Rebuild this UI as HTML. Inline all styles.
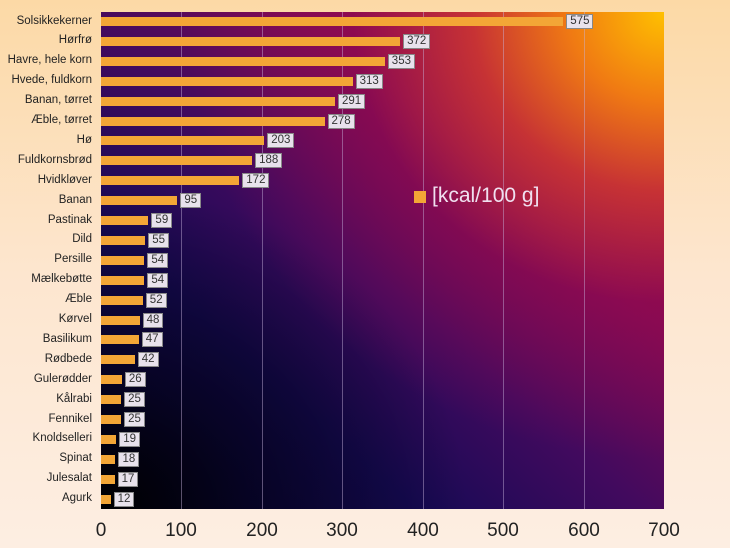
<!DOCTYPE html>
<html><head><meta charset="utf-8"><style>
body{margin:0;width:730px;height:548px;overflow:hidden;background:linear-gradient(#fcd9a6,#fde6cf 50%,#fdeee2);font-family:"Liberation Sans",sans-serif;position:relative}
#plot{position:absolute;left:101px;top:12px;width:563px;height:497px;background:
radial-gradient(ellipse 85% 90% at 100% 0%,rgba(255,192,0,1) 0%,rgba(245,128,16,.95) 20%,rgba(215,60,45,.8) 40%,rgba(160,10,76,.5) 65%,rgba(150,10,76,0) 100%),
radial-gradient(ellipse 65% 65% at 0% 100%,rgba(0,0,0,1) 0%,rgba(0,0,10,.6) 40%,rgba(0,0,20,0) 100%),
linear-gradient(to top right,#08063a 0%,#160a55 28%,#420a5e 48%,#780a56 68%,#9a0a4a 100%)}
.g{position:absolute;top:0;bottom:0;width:1px;background:rgba(200,180,220,.45)}
.bar{position:absolute;height:9px;background:#f3a636;left:0}
.v{position:absolute;font-size:11.5px;color:#333;background:#e8e2ec;border:1px solid #888;padding:0 3px;line-height:13px}
.l{position:absolute;right:638px;font-size:11.5px;color:#222;text-align:right;white-space:nowrap}
.t{position:absolute;top:520px;font-size:19px;color:#222;transform:translateX(-50%)}
</style></head><body>
<div id="plot">
<div class="g" style="left:80px"></div><div class="g" style="left:161px"></div><div class="g" style="left:241px"></div><div class="g" style="left:322px"></div><div class="g" style="left:402px"></div><div class="g" style="left:483px"></div>
<div style="position:absolute;left:313px;top:179px;width:12px;height:12px;background:#f3a636"></div>
<div style="position:absolute;left:331px;top:172px;font-size:21px;color:#f0e0f0">[kcal/100 g]</div>
<div id="bars"></div>
</div>
<div id="labels"></div>
<div class="t" style="left:101px">0</div><div class="t" style="left:181px">100</div><div class="t" style="left:262px">200</div><div class="t" style="left:342px">300</div><div class="t" style="left:423px">400</div><div class="t" style="left:503px">500</div><div class="t" style="left:584px">600</div><div class="t" style="left:664px">700</div>
<script>
var d=[["Solsikkekerner",575],["Hørfrø",372],["Havre, hele korn",353],["Hvede, fuldkorn",313],["Banan, tørret",291],["Æble, tørret",278],["Hø",203],["Fuldkornsbrød",188],["Hvidkløver",172],["Banan",95],["Pastinak",59],["Dild",55],["Persille",54],["Mælkebøtte",54],["Æble",52],["Kørvel",48],["Basilikum",47],["Rødbede",42],["Gulerødder",26],["Kålrabi",25],["Fennikel",25],["Knoldselleri",19],["Spinat",18],["Julesalat",17],["Agurk",12]];
var b="",l="";
d.forEach(function(e,i){var c=21.5+i*19.9,w=e[1]*0.804;
b+='<div class="bar" style="top:'+(c-12-4.5)+'px;width:'+w+'px"></div><div class="v" style="top:'+(c-12-7.5)+'px;left:'+(w+3)+'px">'+e[1]+'</div>';
l+='<div class="l" style="top:'+(c-7)+'px">'+e[0]+'</div>';});
document.getElementById("bars").innerHTML=b;document.getElementById("labels").innerHTML=l;
</script>
</body></html>
